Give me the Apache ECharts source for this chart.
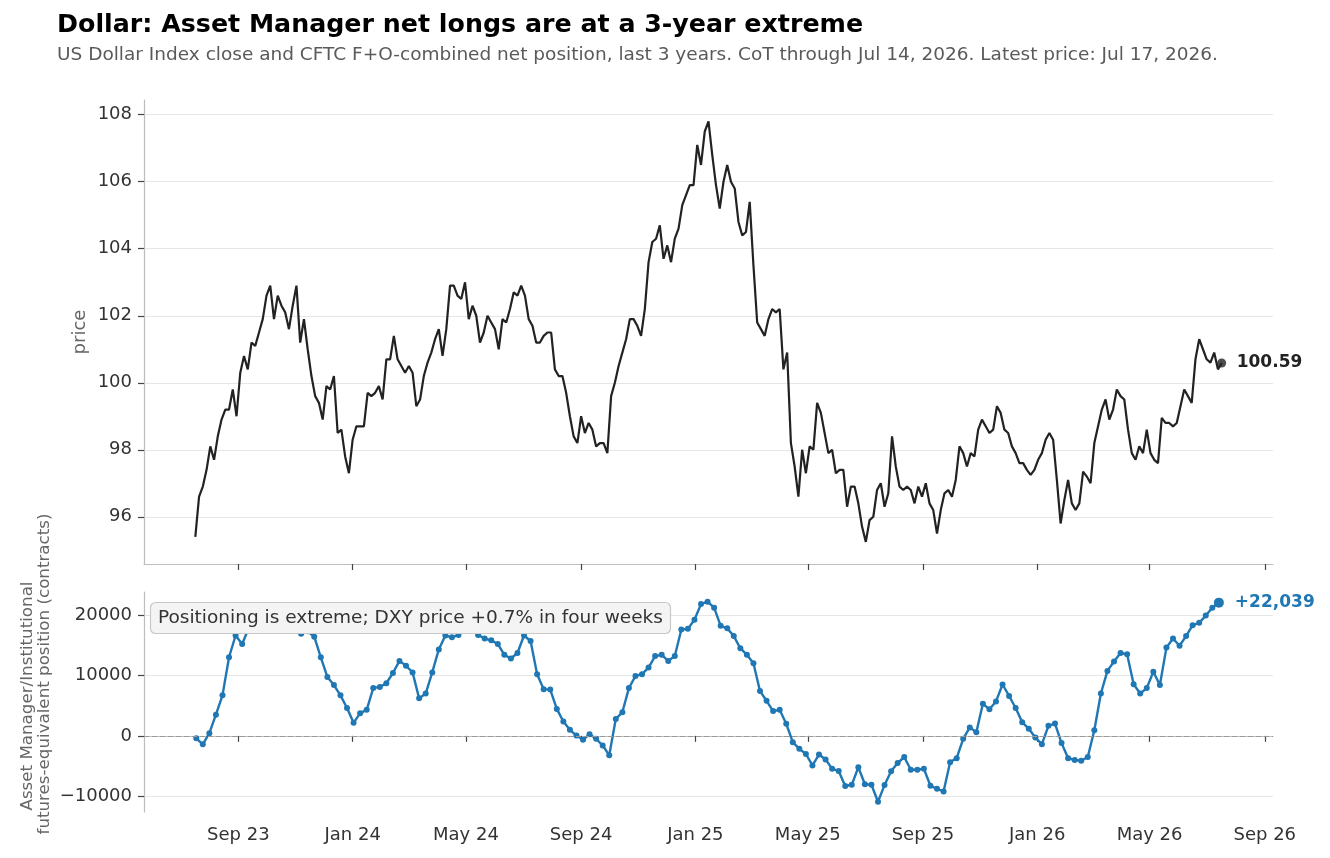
<!DOCTYPE html>
<html><head><meta charset="utf-8">
<script src="https://cdn.jsdelivr.net/npm/echarts@6/dist/echarts.min.js"></script>
<style>html,body{margin:0;padding:0;background:#fff}#c{width:1330px;height:858px}</style>
</head><body><div id="c"></div>
<script>
// ---- Data ----
const titleText = 'Dollar: Asset Manager net longs are at a 3-year extreme';
const subtitleText = 'US Dollar Index close and CFTC F+O-combined net position, last 3 years. CoT through Jul 14, 2026. Latest price: Jul 17, 2026.';
const noteText = 'Positioning is extreme; DXY price +0.7% in four weeks';
const cotNameLines = ['Asset Manager/Institutional', 'futures-equivalent position (contracts)'];

// DXY close, sampled every 4 calendar days from 2023-07-17 to 2026-07-17
const priceStart = '2023-07-17';
const priceStepDays = 4;
const priceValues = [
  95.4, 96.6, 96.9, 97.4, 98.1, 97.7, 98.4, 98.9, 99.2, 99.2,
  99.8, 99.0, 100.3, 100.8, 100.4, 101.2, 101.1, 101.5, 101.9, 102.6,
  102.9, 101.9, 102.6, 102.3, 102.1, 101.6, 102.3, 102.9, 101.2, 101.9,
  101.0, 100.2, 99.6, 99.4, 98.9, 99.9, 99.8, 100.2, 98.5, 98.6,
  97.8, 97.3, 98.3, 98.7, 98.7, 98.7, 99.7, 99.6, 99.7, 99.9,
  99.5, 100.7, 100.7, 101.4, 100.7, 100.5, 100.3, 100.5, 100.3, 99.3,
  99.5, 100.2, 100.6, 100.9, 101.3, 101.6, 100.8, 101.6, 102.9, 102.9,
  102.6, 102.5, 103.0, 101.9, 102.3, 102.0, 101.2, 101.5, 102.0, 101.8,
  101.6, 101.0, 101.9, 101.8, 102.2, 102.7, 102.6, 102.9, 102.6, 101.9,
  101.7, 101.2, 101.2, 101.4, 101.5, 101.5, 100.4, 100.2, 100.2, 99.7,
  99.0, 98.4, 98.2, 99.0, 98.5, 98.8, 98.6, 98.1, 98.2, 98.2,
  97.9, 99.6, 100.0, 100.5, 100.9, 101.3, 101.9, 101.9, 101.7, 101.4,
  102.2, 103.6, 104.2, 104.3, 104.7, 103.7, 104.1, 103.6, 104.3, 104.6,
  105.3, 105.6, 105.9, 105.9, 107.1, 106.5, 107.5, 107.8, 106.8, 105.9,
  105.2, 106.0, 106.5, 106.0, 105.8, 104.8, 104.4, 104.5, 105.4, 103.5,
  101.8, 101.6, 101.4, 101.9, 102.2, 102.1, 102.2, 100.4, 100.9, 98.2,
  97.5, 96.6, 98.0, 97.3, 98.1, 98.0, 99.4, 99.1, 98.5, 97.9,
  98.0, 97.3, 97.4, 97.4, 96.3, 96.9, 96.9, 96.4, 95.7, 95.25,
  95.9, 96.0, 96.8, 97.0, 96.3, 96.7, 98.4, 97.5, 96.9, 96.8,
  96.9, 96.8, 96.4, 96.9, 96.6, 97.0, 96.4, 96.2, 95.5, 96.2,
  96.7, 96.8, 96.6, 97.1, 98.1, 97.9, 97.5, 97.9, 97.8, 98.6,
  98.9, 98.7, 98.5, 98.6, 99.3, 99.1, 98.6, 98.5, 98.1, 97.9,
  97.6, 97.6, 97.4, 97.25, 97.4, 97.7, 97.9, 98.3, 98.5, 98.3,
  97.1, 95.8, 96.5, 97.1, 96.4, 96.2, 96.4, 97.35, 97.2, 97.0,
  98.2, 98.7, 99.2, 99.5, 98.9, 99.2, 99.8, 99.6, 99.5, 98.6,
  97.9, 97.7, 98.1, 97.9, 98.6, 97.9, 97.7, 97.6, 98.95, 98.8,
  98.8, 98.7, 98.8, 99.3, 99.8, 99.6, 99.4, 100.7, 101.3, 101.0,
  100.7, 100.6, 100.9, 100.4, 100.59
];

// CFTC Asset Manager net position, weekly (Tuesdays) 2023-07-18 .. 2026-07-14
const cotStart = '2023-07-18';
const cotStepDays = 7;
const cotValues = [
  -400, -1400, 450, 3500, 6700, 13000, 16600, 15200, 17800, 19000,
  19800, 20300, 19700, 19000, 18300, 17600, 16900, 17300, 16400, 13000,
  9750, 8400, 6700, 4600, 2150, 3750, 4300, 7900, 8100, 8700,
  10400, 12400, 11600, 10500, 6200, 7000, 10500, 14300, 16600, 16300,
  16700, 17600, 17600, 16700, 16100, 15800, 15200, 13400, 12800, 13700,
  16600, 15700, 10200, 7700, 7650, 4460, 2370, 1000, 50, -660,
  275, -500, -1600, -3200, 2800, 3900, 7900, 9900, 10200, 11300,
  13200, 13400, 12400, 13200, 17600, 17700, 19200, 21800, 22200, 21200,
  18200, 17800, 16500, 14500, 13400, 12000, 7400, 5800, 4100, 4300,
  2000, -1050, -2150, -3000, -4900, -3100, -3900, -5450, -5800, -8300,
  -8100, -5200, -8000, -8100, -10900, -8150, -5850, -4500, -3500, -5600,
  -5600, -5450, -8260, -8760, -9200, -4350, -3700, -500, 1400, 600,
  5300, 4400, 5700, 8500, 6600, 4600, 2260, 1160, -280, -1380,
  1650, 2040, -1200, -3700, -4000, -4130, -3500, 940, 7000, 10740,
  12300, 13700, 13500, 8540, 7000, 7900, 10600, 8400, 14600, 16100,
  14900, 16500, 18300, 18700, 19900, 21200, 22039
];

const tickDates = ['2023-09-01','2024-01-01','2024-05-01','2024-09-01','2025-01-01','2025-05-01','2025-09-01','2026-01-01','2026-05-01','2026-09-01'];
const tickLabels = ['Sep 23','Jan 24','May 24','Sep 24','Jan 25','May 25','Sep 25','Jan 26','May 26','Sep 26'];
const priceTicks = [96, 98, 100, 102, 104, 106, 108];
const cotTicks = [-10000, 0, 10000, 20000];

// ---- Build ----
const DAY = 86400000;
const p0 = Date.parse(priceStart);
const c0 = Date.parse(cotStart);
const priceData = priceValues.map((v, i) => [p0 + i * priceStepDays * DAY, v]);
const cotData = cotValues.map((v, i) => [c0 + i * cotStepDays * DAY, v]);
const lastPrice = priceData[priceData.length - 1];
const cotSeriesData = cotData.map((d, i) => i === cotData.length - 1 ? { value: d, symbolSize: 10 } : d);
const tickTimes = tickDates.map(d => Date.parse(d));
const tStart = priceData[0][0], tEnd = lastPrice[0];
const xMin = tStart - 0.05 * (tEnd - tStart);
const xMax = tEnd + 0.05 * (tEnd - tStart);
const FONT = 'DejaVu Sans';

function dateLabel(v) {
  let best = 0, bd = Infinity;
  tickTimes.forEach((t, i) => { const d = Math.abs(t - v); if (d < bd) { bd = d; best = i; } });
  return tickLabels[best];
}
function numLabel(v) { return v < 0 ? '\u2212' + Math.abs(v) : String(v); }

const axisLineStyle = { color: '#bdbdbd', width: 1.2 };
const tickStyle = { color: '#444', width: 1.2 };

const chart = echarts.init(document.getElementById('c'), null, { renderer: 'canvas' });
chart.setOption({
  animation: false,
  backgroundColor: '#fff',
  textStyle: { fontFamily: FONT },
  title: [
    { text: titleText, left: 52, top: 8, textStyle: { fontFamily: FONT, fontSize: 25.3, fontWeight: 'bold', color: '#000' } },
    { text: subtitleText, left: 52, top: 41, textStyle: { fontFamily: FONT, fontSize: 18.5, fontWeight: 'normal', color: '#5a5a5a' } },
    { text: noteText, left: 150, top: 602, padding: [6, 8, 6, 8], backgroundColor: '#f4f4f4', borderColor: '#c8c8c8', borderWidth: 1.2, borderRadius: 5,
      textStyle: { fontFamily: FONT, fontSize: 18.5, fontWeight: 'normal', color: '#333', lineHeight: 20 } }
  ],
  grid: [
    { left: 144, right: 57, top: 100, height: 464, outerBoundsMode: 'none', containLabel: false },
    { left: 144, right: 57, top: 592, height: 220, outerBoundsMode: 'none', containLabel: false }
  ],
  xAxis: [
    { type: 'value', gridIndex: 0, min: xMin, max: xMax, scale: true,
      axisLine: { show: true, lineStyle: axisLineStyle },
      axisTick: { show: true, customValues: tickTimes, length: 6, lineStyle: tickStyle },
      axisLabel: { show: false, customValues: tickTimes },
      splitLine: { show: false } },
    { type: 'value', gridIndex: 1, min: xMin, max: xMax, scale: true,
      axisLine: { show: true, lineStyle: axisLineStyle },
      axisTick: { show: true, customValues: tickTimes, length: 6, lineStyle: tickStyle },
      axisLabel: { show: true, customValues: tickTimes, formatter: dateLabel, fontSize: 18, color: '#333', margin: 14, fontFamily: FONT },
      splitLine: { show: false } }
  ],
  yAxis: [
    { type: 'value', gridIndex: 0, min: 94.59, max: 108.44,
      name: 'price', nameLocation: 'middle', nameGap: 55, nameMoveOverlap: false,
      nameTextStyle: { color: '#666', fontSize: 18, fontFamily: FONT },
      axisLine: { show: true, lineStyle: axisLineStyle },
      axisTick: { show: true, customValues: priceTicks, length: 6, lineStyle: tickStyle },
      axisLabel: { customValues: priceTicks, fontSize: 18, color: '#333', margin: 12, fontFamily: FONT },
      splitLine: { show: true, lineStyle: { color: '#e6e6e6', width: 1.2 } } },
    { type: 'value', gridIndex: 1, min: -12600, max: 23800,
      name: '{a|' + cotNameLines[0] + '}\n{b|' + cotNameLines[1] + '}', nameLocation: 'middle', nameGap: 91, nameMoveOverlap: false,
      nameTextStyle: { color: '#666', fontSize: 16.7, lineHeight: 17, fontFamily: FONT,
        rich: {
          a: { color: '#666', fontSize: 16.7, lineHeight: 17, fontFamily: FONT, padding: [0, 0, 0, 12] },
          b: { color: '#666', fontSize: 16.7, lineHeight: 17, fontFamily: FONT, padding: [0, 0, 0, 56] }
        } },
      axisLine: { show: true, lineStyle: axisLineStyle },
      axisTick: { show: true, customValues: cotTicks, length: 6, lineStyle: tickStyle },
      axisLabel: { customValues: cotTicks, formatter: numLabel, fontSize: 18, color: '#333', margin: 12, fontFamily: FONT },
      splitLine: { show: true, lineStyle: { color: '#e6e6e6', width: 1.2 } } }
  ],
  series: [
    { type: 'line', xAxisIndex: 0, yAxisIndex: 0, data: priceData, showSymbol: false, symbol: 'none',
      lineStyle: { color: '#222', width: 2.2 }, itemStyle: { color: '#222' },
      endLabel: { show: true, formatter: p => p.value[1].toFixed(2), color: '#222', fontWeight: 'bold', fontSize: 17, distance: 15, fontFamily: FONT } },
    { type: 'scatter', xAxisIndex: 0, yAxisIndex: 0, data: [lastPrice], symbolSize: 9, itemStyle: { color: '#222' }, z: 4 },
    { type: 'line', xAxisIndex: 1, yAxisIndex: 1, data: cotSeriesData, symbol: 'circle', symbolSize: 6, showSymbol: true, showAllSymbol: true,
      lineStyle: { color: '#1f77b4', width: 2.4 }, itemStyle: { color: '#1f77b4' },
      endLabel: { show: true, formatter: p => '+' + p.value[1].toLocaleString('en-US'), color: '#1f77b4', fontWeight: 'bold', fontSize: 17, distance: 16, fontFamily: FONT },
      markLine: { silent: true, symbol: ['none', 'none'], label: { show: false },
        lineStyle: { type: [5, 3], color: '#999', width: 1.2 }, data: [{ yAxis: 0 }] } }
  ]
});
</script></body></html>
